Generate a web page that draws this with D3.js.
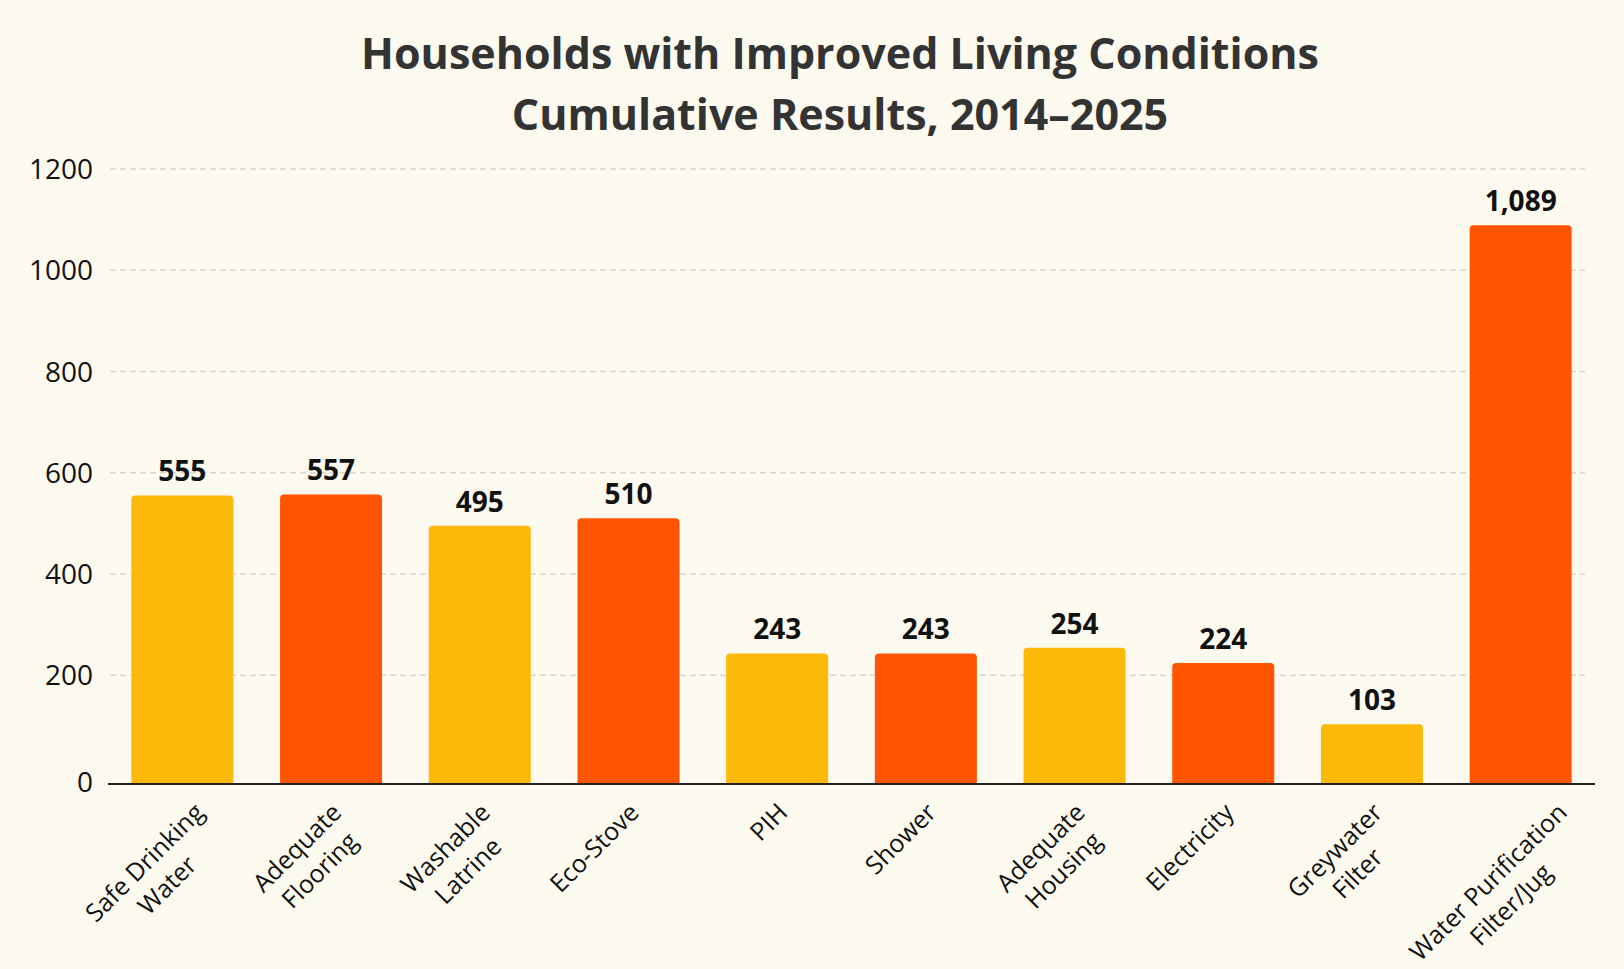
<!DOCTYPE html>
<html>
<head>
<meta charset="utf-8">
<script src="https://cdn.jsdelivr.net/npm/d3@7"></script>
<style>
  html, body { margin: 0; padding: 0; background: #fcf9ef; }
  svg { display: block; font-family: "Open Sans", "Noto Sans", sans-serif; }
</style>
</head>
<body>
<svg id="chart" width="1624" height="969"></svg>
<script>
const titleLines = ["Households with Improved Living Conditions", "Cumulative Results, 2014\u20132025"];
const categories = [
  "Safe Drinking\nWater", "Adequate\nFlooring", "Washable\nLatrine", "Eco-Stove", "PIH",
  "Shower", "Adequate\nHousing", "Electricity", "Greywater\nFilter", "Water Purification\nFilter/Jug"
];
const values = [555, 557, 495, 510, 243, 243, 254, 224, 103, 1089];
const barColors = ["#fdb909", "#ff5500"];
const yTicks = [0, 200, 400, 600, 800, 1000, 1200];

const width = 1624, height = 969;

const svg = d3.select("#chart");

svg.append("rect")
  .attr("width", width)
  .attr("height", height)
  .attr("fill", "#fcf9ef");

const x = d3.scaleBand()
  .domain(categories)
  .range([108, 1595])
  .paddingInner(0.314)
  .paddingOuter(0.157);

// the baseline sits a little below zero, bars run down to it
const y = d3.scaleLinear()
  .domain([-15, 1200])
  .range([784, 169]);
const axisY = y(-15);

// title
svg.append("g")
  .selectAll("text")
  .data(titleLines)
  .join("text")
  .attr("x", 840)
  .attr("y", (d, i) => 69 + i * 61)
  .attr("text-anchor", "middle")
  .attr("font-size", 43)
  .attr("font-weight", 700)
  .attr("fill", "#333")
  .text(d => d);

// grid + y labels
const grid = svg.append("g");
grid.selectAll("line")
  .data(yTicks.filter(d => d > 0))
  .join("line")
  .attr("x1", 110)
  .attr("x2", 1585)
  .attr("y1", d => y(d))
  .attr("y2", d => y(d))
  .attr("stroke", "#d9d6ce")
  .attr("stroke-width", 1.5)
  .attr("stroke-dasharray", "6 4");

grid.selectAll("text")
  .data(yTicks)
  .join("text")
  .attr("x", 93)
  .attr("y", d => d === 0 ? axisY - 2 : y(d))
  .attr("dy", "0.36em")
  .attr("text-anchor", "end")
  .attr("font-size", 28)
  .attr("fill", "#111")
  .text(d => d);

// bars, only top corners rounded
const r = 4;
function barPath(x0, y0, w, h) {
  return `M${x0},${y0 + h}V${y0 + r}Q${x0},${y0} ${x0 + r},${y0}H${x0 + w - r}Q${x0 + w},${y0} ${x0 + w},${y0 + r}V${y0 + h}Z`;
}

svg.append("g")
  .selectAll("path")
  .data(values)
  .join("path")
  .attr("d", (d, i) => barPath(x(categories[i]), y(d), x.bandwidth(), axisY - y(d)))
  .attr("fill", (d, i) => barColors[i % 2]);

// value labels
const fmt = d3.format(",");
svg.append("g")
  .selectAll("text")
  .data(values)
  .join("text")
  .attr("x", (d, i) => x(categories[i]) + x.bandwidth() / 2)
  .attr("y", d => y(d) - 14)
  .attr("text-anchor", "middle")
  .attr("font-size", 28)
  .attr("font-weight", 700)
  .attr("fill", "#111")
  .text(d => fmt(d));

// axis line
svg.append("line")
  .attr("x1", x.range()[0])
  .attr("x2", x.range()[1])
  .attr("y1", axisY)
  .attr("y2", axisY)
  .attr("stroke", "#222")
  .attr("stroke-width", 2);

// rotated category labels, lines centred on each other
const lab = svg.append("g")
  .selectAll("g")
  .data(categories)
  .join("g");

lab.each(function(d) {
  const g = d3.select(this);
  const lines = d.split("\n");
  const t = g.selectAll("text")
    .data(lines)
    .join("text")
    .attr("y", (l, i) => i * 32)
    .attr("text-anchor", "middle")
    .attr("font-size", 25)
    .attr("fill", "#111")
    .text(l => l);
  const maxW = d3.max(t.nodes(), n => n.getComputedTextLength());
  t.attr("x", -maxW / 2);
  // long labels get nudged right so they don't run under the previous bar
  const nudge = Math.max(0, maxW - 130) * 0.45;
  g.attr("transform", `translate(${x(d) + x.bandwidth() / 2 + 12 + nudge},${axisY + 30}) rotate(-45)`);
});
</script>
</body>
</html>
